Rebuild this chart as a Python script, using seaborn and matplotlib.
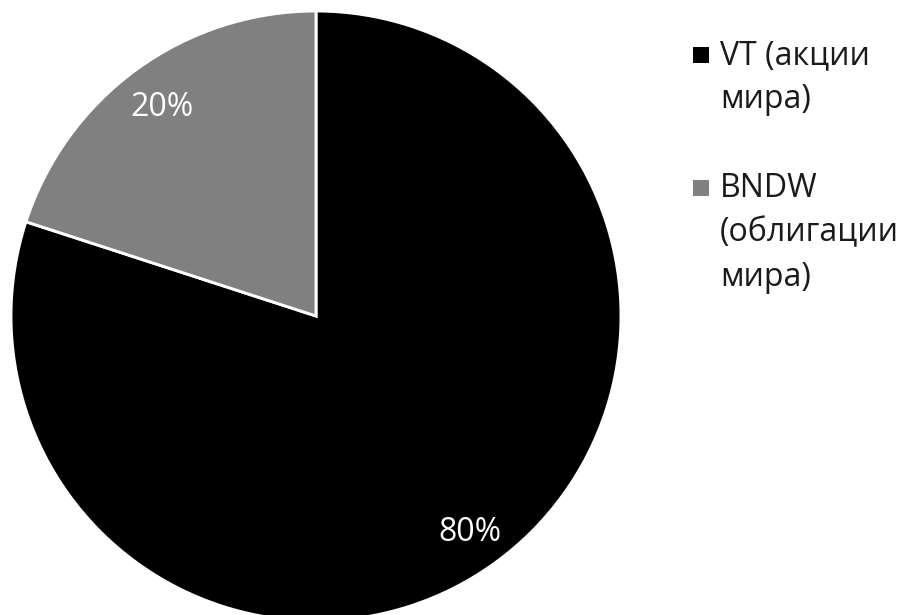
import matplotlib
matplotlib.use("Agg")
import matplotlib.pyplot as plt
from matplotlib.patches import Rectangle
import seaborn as sns

labels = ["VT (акции\nмира)", "BNDW\n(облигации\nмира)"]
shares = [80, 20]
colors = ["#000000", "#808080"]

sns.set_theme(style="white")
plt.rcParams["font.family"] = ["Open Sans", "DejaVu Sans"]

W, H = 905, 615
fig = plt.figure(figsize=(W / 100, H / 100), dpi=100)
ax = fig.add_axes([11 / W, -6 / H, 610 / W, 610 / H])

wedges, texts, autotexts = ax.pie(
    shares,
    colors=colors,
    startangle=90,
    counterclock=False,
    autopct="%1.0f%%",
    pctdistance=0.86,
    radius=1,
    wedgeprops={"edgecolor": "white", "linewidth": 2.1},
    textprops={"color": "white", "fontsize": 23},
)
for t in autotexts:
    t.set_va("center_baseline")
ax.set_xlim(-1, 1)
ax.set_ylim(-1, 1)
ax.set_aspect("equal")

# legend drawn by hand so the marker sits on the first line of each label
line_step = 44.3
first_base = 64
line = 0
for label, color in zip(labels, colors):
    base = first_base + line * line_step
    fig.add_artist(Rectangle((693 / W, 1 - (base - 1) / H), 16 / W, 16 / H,
                             transform=fig.transFigure, facecolor=color,
                             edgecolor="none"))
    for part in label.split("\n"):
        y = first_base + line * line_step
        fig.text(720 / W, 1 - y / H, part, fontsize=23, color="#1a1a1a",
                 ha="left", va="baseline")
        line += 1
    line += 1

fig.savefig("out.png", dpi=100)
